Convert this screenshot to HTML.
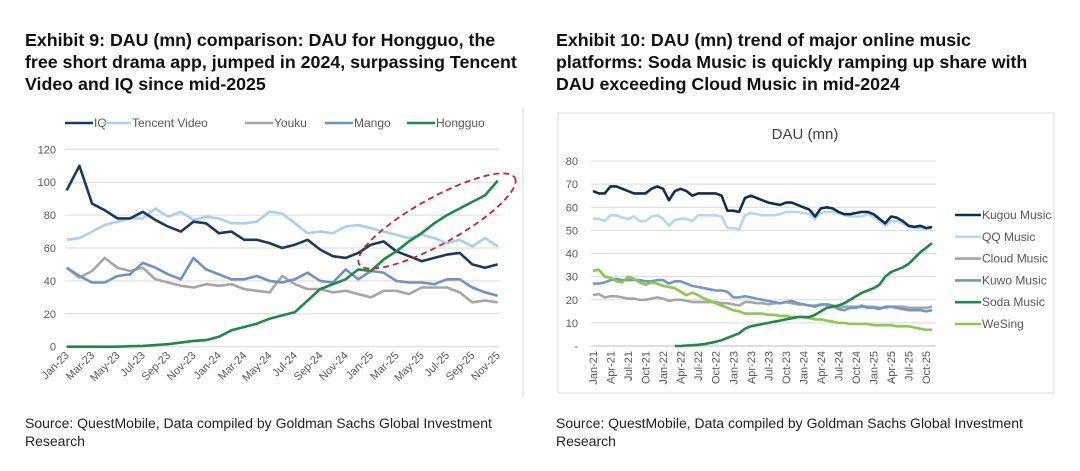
<!DOCTYPE html>
<html><head><meta charset="utf-8">
<style>
body{margin:0;background:#fff;width:1080px;height:471px;overflow:hidden;font-family:"Liberation Sans",sans-serif}
svg{display:block}
.t{font-family:"Liberation Sans",sans-serif;font-weight:bold;font-size:17.8px;fill:#111}
.s{font-family:"Liberation Sans",sans-serif;font-size:14px;fill:#222}
.ax{font-family:"Liberation Sans",sans-serif;font-size:11px;fill:#595959}
.lg{font-family:"Liberation Sans",sans-serif;font-size:12px;fill:#595959}
</style></head>
<body>
<svg id="svg" width="1080" height="471" xmlns="http://www.w3.org/2000/svg">
<g>
<text class="t" x="25" y="46">Exhibit 9: DAU (mn) comparison: DAU for Hongguo, the</text>
<text class="t" x="25" y="68">free short drama app, jumped in 2024, surpassing Tencent</text>
<text class="t" x="25" y="90">Video and IQ since mid-2025</text>
</g>
<g>
<text class="t" x="556" y="46">Exhibit 10: DAU (mn) trend of major online music</text>
<text class="t" x="556" y="68">platforms: Soda Music is quickly ramping up share with</text>
<text class="t" x="556" y="90">DAU exceeding Cloud Music in mid-2024</text>
</g>
<g>
<text class="s" x="25" y="428">Source: QuestMobile, Data compiled by Goldman Sachs Global Investment</text>
<text class="s" x="25" y="446">Research</text>
</g>
<g>
<text class="s" x="556" y="428">Source: QuestMobile, Data compiled by Goldman Sachs Global Investment</text>
<text class="s" x="556" y="446">Research</text>
</g>
<line x1="523" y1="108" x2="523" y2="398" stroke="#ddd"/>
<rect x="558" y="113" width="496" height="280" fill="none" stroke="#d9d9d9"/>
<text x="805" y="139" text-anchor="middle" font-family="Liberation Sans" font-size="15" fill="#404040">DAU (mn)</text>
<g id="L"></g><g id="R"></g>
</svg>
<script>
// ---- Left chart data ----
const leftMonths = ["Jan-23","Feb-23","Mar-23","Apr-23","May-23","Jun-23","Jul-23","Aug-23","Sep-23","Oct-23","Nov-23","Dec-23","Jan-24","Feb-24","Mar-24","Apr-24","May-24","Jun-24","Jul-24","Aug-24","Sep-24","Oct-24","Nov-24","Dec-24","Jan-25","Feb-25","Mar-25","Apr-25","May-25","Jun-25","Jul-25","Aug-25","Sep-25","Oct-25","Nov-25"];
const leftNames = ["IQ","Tencent Video","Youku","Mango","Hongguo"];
const iq = [95,110,87,83,78,78,82,77,73,70,76,75,69,70,65,65,63,60,62,65,59,55,54,57,62,64,58,55,52,54,56,57,50,48,50];
const tencent = [65,66,70,74,76,78,78,84,79,82,77,79,78,75,75,76,82,81,75,69,70,69,73,74,72,70,68,66,68,66,63,65,61,66,61];
const youku = [48,42,46,54,48,46,48,41,39,37,36,38,37,38,35,34,33,43,38,35,35,33,34,32,30,34,34,32,36,36,36,33,27,28,27];
const mango = [48,43,39,39,43,44,51,48,44,41,54,47,44,41,41,43,40,39,41,45,40,39,47,41,46,45,40,39,39,38,41,41,36,33,31];
const hongguo = [0,0,0,0,0,0.3,0.5,1,1.5,2.5,3.5,4,6,10,12,14,17,19,21,28,35,38,41,47,46,53,58,64,69,75,80,84,88,92,101];
const leftTicks = [0,20,40,60,80,100,120];
// ---- Right chart data ----
const rightMonths = [];
["21","22","23","24","25"].forEach(y=>["Jan","Feb","Mar","Apr","May","Jun","Jul","Aug","Sep","Oct","Nov","Dec"].forEach(m=>rightMonths.push(m+"-"+y)));
rightMonths.splice(59);
const rightNames = ["Kugou Music","QQ Music","Cloud Music","Kuwo Music","Soda Music","WeSing"];
const kugou = [67,66,66,69,69,68,67,66,66,66,68,69, 68,63,67,68,67,65,66,66,66,66,65,58.5, 58.5,58,64,65,64,63,62,61.5,61,62,62,61, 60,59,56,59.5,60,59.5,58,57,57,57.5,58,58, 57,55,53,56,55.5,54,52,51.5,52,51,51.5];
const qq = [55,55,54,56.5,56.5,55.5,55,56,54,54,56,56.5, 55,52,54.5,55,55,54,56.5,56.5,56.5,56.5,56,51, 51,50.5,56.5,57.5,57,56.5,56.5,56.5,57,58,58,58, 57.5,57,55,57.5,58,58,57.5,56.5,56,56,56,57, 56,54,52,54,54,53,51.5,51,51,50.5,51];
const cloud = [22,22.5,21,21.5,21.5,21,20.5,20.5,20,20,20.5,21, 20.5,19.5,20,20,19.5,19,19,19,19,19,18.5,18.5, 18,17.5,19,19,18.5,18.5,18,18.5,18.5,19,18.5,18, 18,17.5,17.5,18,18,17.5,17,17,17,17,17,17, 17,16.5,16.5,17,17,17,16.5,16.5,16.5,16.5,17];
const kuwo = [27,27,27.5,28.5,29,28.5,28.5,28.5,28.5,28,28,28.5, 28.5,27,28,28,27,26,25.5,25,24.5,24,24,23.5, 21,21,21.5,21,20.5,20,19.5,19,18.5,19,19.5,18.5, 18,17.5,17,18,18,17.5,16,15.5,16.5,16.5,17.5,16.5, 16.5,16,17,17,16.5,16,15.5,15.5,15.5,15,15.5];
const soda = [null,null,null,null,null,null,null,null,null,null,null,null, null,null,0,0,0.2,0.3,0.5,0.8,1.3,1.8,2.5,3.5, 4.5,5.5,7.5,8.5,9,9.5,10,10.5,11,11.5,12,12.5, 12.5,12.5,13.5,15,16.5,17,17.5,18.5,20,21.5,23,24, 25,26.5,30,32,33,34,35.5,38,40.5,42.5,44.5];
const wesing = [32.5,33,30,29.5,28,27.5,30,29,27.5,26.5,27.5,27, 26,25.5,25,23.5,22,23,22,20.5,19.5,18.5,17.5,16.5, 15.5,15,14,14,14,14,13.5,13.5,13,13,12.5,12.5, 12.5,12,11.5,11.5,11,10.5,10,10,9.5,9.5,9.5,9.5, 9,9,9,9,8.5,8.5,8.5,8,7.5,7,7];
const rightTicks = [0,10,20,30,40,50,60,70,80];

const NS="http://www.w3.org/2000/svg";
function mk(p,tag,at){const e=document.createElementNS(NS,tag);for(const k in at)e.setAttribute(k,at[k]);p.appendChild(e);return e;}

// Left
(function(){
 const g=document.getElementById('L');
 const x0=66.7,x1=497.7,y0=346.7,y1=149.3;
 const xs=i=>x0+i*(x1-x0)/(leftMonths.length-1);
 const ys=v=>y0-(v/120)*(y0-y1);
 leftTicks.forEach(t=>{
  const l=mk(g,'line',{x1:x0-2,x2:x1+2,y1:ys(t),y2:ys(t),stroke:'#d9d9d9','stroke-width':1});
  
  
  const tx=mk(g,'text',{x:56,y:ys(t)+4,'text-anchor':'end',class:'ax'});tx.textContent=t;
  
  
 });
 leftMonths.forEach((m,i)=>{if(i%2)return;
  const tx=mk(g,'text',{x:xs(i)+3,y:356,'text-anchor':'end',class:'ax',transform:`rotate(-45 ${xs(i)+3} 356)`});tx.textContent=m;
  
  
 });
 const series=[iq,tencent,youku,mango,hongguo];
 const cols=['#1b3a5f','#a9d0ef','#a6a6a6','#6f91c5','#1e8a45'];
 const order=[1,2,3,0,4];
 order.forEach(k=>{
  const d=series[k].map((v,i)=>(i?'L':'M')+xs(i).toFixed(1)+','+ys(v).toFixed(1)).join('');
  const p=mk(g,'path',{d,fill:'none',stroke:cols[k],'stroke-width':2.6,'stroke-linejoin':'round'});
  
  
 });
 const lx=[65,103,245,325,407];
 leftNames.forEach((n,k)=>{
  const ln=mk(g,'line',{x1:lx[k],x2:lx[k]+28,y1:123,y2:123,stroke:cols[k],'stroke-width':2.6});
  
  
  const tx=mk(g,'text',{x:lx[k]+29,y:127,class:'lg'});tx.textContent=n;
  
  
 });
 const el=mk(g,'ellipse',{cx:437,cy:221,rx:89,ry:23,fill:'none',stroke:'#d0202a','stroke-width':1.8,'stroke-dasharray':'6,4',transform:'rotate(-29 437 221)'});
 
 
})();

// Right
(function(){
 const g=document.getElementById('R');
 const x0=593,x1=932,y0=346,y1=161;
 const xs=i=>x0+i*(x1-x0)/(rightMonths.length-1);
 const ys=v=>y0-(v/80)*(y0-y1);
 rightTicks.forEach(t=>{
  const l=mk(g,'line',{x1:x0-2,x2:x1+4,y1:ys(t),y2:ys(t),stroke:t?'#d9d9d9':'#bfbfbf','stroke-width':1});
  
  
  const tx=mk(g,'text',{x:578,y:ys(t)+4,'text-anchor':'end',class:'ax'});tx.textContent=t?t:'-';
  
  
 });
 rightMonths.forEach((m,i)=>{if(i%3)return;
  const tx=mk(g,'text',{x:xs(i)+4,y:351,'text-anchor':'end',class:'ax',transform:`rotate(-90 ${xs(i)+4} 351)`});tx.textContent=m;
  
  
 });
 const series=[kugou,qq,cloud,kuwo,soda,wesing];
 const cols=['#0e2f55','#b4d8f2','#a6a6a6','#7396c9','#1d8a45','#8cc84b'];
 [2,3,5,4,1,0].forEach(k=>{
  let d='',pen=false;
  series[k].forEach((v,i)=>{if(v==null){pen=false;return;}d+=(pen?'L':'M')+xs(i).toFixed(1)+','+ys(v).toFixed(1);pen=true;});
  const p=mk(g,'path',{d,fill:'none',stroke:cols[k],'stroke-width':2.6,'stroke-linejoin':'round'});
  
  
 });
 rightNames.forEach((n,k)=>{
  const y=215+k*21.8;
  const ln=mk(g,'line',{x1:955,x2:981,y1:y,y2:y,stroke:cols[k],'stroke-width':2.6});
  
  
  const tx=mk(g,'text',{x:982,y:y+4,class:'lg'});tx.textContent=n;
  
  
 });
})();
</script>
</body></html>
